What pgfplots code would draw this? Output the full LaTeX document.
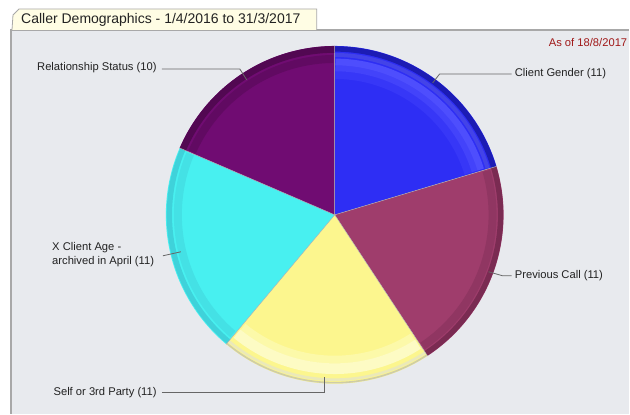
\documentclass[border=0pt]{standalone}
\usepackage{pgfplots}
\pgfplotsset{compat=1.18}
\usepackage{pgfplotstable}
\usepackage{fontspec}
\setmainfont{Liberation Sans}

\definecolor{panelbg}{HTML}{E8EAEE}
\definecolor{panelborder}{HTML}{A8A8A8}
\definecolor{tabbg}{HTML}{FFFDE4}
\definecolor{txt}{HTML}{222222}
\definecolor{asof}{HTML}{A01818}
\definecolor{leader}{HTML}{666666}
\definecolor{cBlue}{HTML}{2E2EF4}
\definecolor{rBlue}{HTML}{1C1CB4}
\definecolor{hBlue}{HTML}{5454FF}
\definecolor{cMaroon}{HTML}{9F3D6C}
\definecolor{rMaroon}{HTML}{7A2B52}
\definecolor{cYellow}{HTML}{FCF68E}
\definecolor{hYellow}{HTML}{FDFBC4}
\definecolor{rYellow}{HTML}{CFCDA6}
\definecolor{cCyan}{HTML}{48F0F0}
\definecolor{rCyan}{HTML}{3FD2DA}
\definecolor{cPurple}{HTML}{700C72}
\definecolor{rPurple}{HTML}{520852}

% slice values: Client Gender, Previous Call, Self or 3rd Party, X Client Age, Relationship Status
\pgfplotstableread{
slice value
1 11
2 11
3 11
4 11
5 10
}\piedata
\pgfplotstablegetelem{0}{value}\of\piedata \let\vA\pgfplotsretval
\pgfplotstablegetelem{1}{value}\of\piedata \let\vB\pgfplotsretval
\pgfplotstablegetelem{2}{value}\of\piedata \let\vC\pgfplotsretval
\pgfplotstablegetelem{3}{value}\of\piedata \let\vD\pgfplotsretval
\pgfplotstablegetelem{4}{value}\of\piedata \let\vE\pgfplotsretval
\pgfmathsetmacro\vT{\vA+\vB+\vC+\vD+\vE}
\pgfmathsetmacro\aA{90}
\pgfmathsetmacro\aB{\aA-360*\vA/\vT}
\pgfmathsetmacro\aC{\aB-360*\vB/\vT}
\pgfmathsetmacro\aD{\aC-360*\vC/\vT}
\pgfmathsetmacro\aE{\aD-360*\vD/\vT}
\pgfmathsetmacro\aF{\aE-360*\vE/\vT}

\def\cx{335}\def\cy{215}\def\R{169}

\newcommand{\slice}[3]{% color, from, to
  \addplot[fill=#1, draw=none, domain=#2:#3, samples=60, variable=\t]
    ({\cx+\R*cos(t)},{\cy-\R*sin(t)}) -- (axis cs:\cx,\cy) -- cycle;
}
\newcommand{\band}[5]{% color, from, to, radius, width(pt)
  \addplot[draw=#1, line width=#5, domain=#2:#3, samples=60, variable=\t]
    ({\cx+#4*cos(t)},{\cy-#4*sin(t)});
}
\newcommand{\edge}[1]{% radial separator
  \addplot[draw=black!30, line width=0.35pt, domain=#1:#1+0.01, samples=2, variable=\t]
    ({\cx+\R*cos(t)},{\cy-\R*sin(t)}) -- (axis cs:\cx,\cy);
}

\begin{document}
\begin{tikzpicture}
\begin{axis}[
  scale only axis, width=472.5pt, height=310.5pt,
  xmin=0, xmax=630, ymin=0, ymax=414, y dir=reverse,
  hide axis, clip=false]
  % background and panel
  \fill[white] (axis cs:0,0) rectangle (axis cs:630,414);
  \fill[panelbg] (axis cs:11,30) rectangle (axis cs:630,414);
  \draw[panelborder, line width=0.8pt] (axis cs:11,414) -- (axis cs:11,30) -- (axis cs:630,30);
  % title tab
  \draw[panelborder, fill=tabbg, line width=0.6pt] (axis cs:12,30) -- (axis cs:13,15) -- (axis cs:19,9) -- (axis cs:317,9) -- (axis cs:317,30);
  \node[anchor=west, inner sep=0, text=txt, font=\fontsize{10.5}{12}\selectfont] at (axis cs:21,20) {Caller Demographics - 1/4/2016 to 31/3/2017};
  \node[anchor=east, inner sep=0, text=asof, font=\fontsize{8.4}{10}\selectfont] at (axis cs:628,43) {As of 18/8/2017};

  % slices
  \slice{cBlue}{\aB}{\aA}
  \slice{cMaroon}{\aC}{\aB}
  \slice{cYellow}{\aD}{\aC}
  \slice{cCyan}{\aE}{\aD}
  \slice{cPurple}{\aF}{\aE}
  % glossy rim (soft graded bands)
  \band{hBlue!25!cBlue}{\aB+0.6}{\aA-0.3}{140}{6pt}
  \band{hBlue!55!cBlue}{\aB+0.6}{\aA-0.3}{147}{5pt}
  \band{hBlue!85!cBlue}{\aB+0.6}{\aA-0.3}{153}{5pt}
  \band{hBlue!70!rBlue}{\aB+0.3}{\aA}{160}{3pt}
  \band{rBlue}{\aB}{\aA}{166}{4pt}
  \band{rMaroon!40!cMaroon}{\aC+0.5}{\aB-0.5}{158}{6pt}
  \band{rMaroon}{\aC}{\aB}{166}{4pt}
  \band{hYellow!50!cYellow}{\aD+0.8}{\aC-0.8}{145}{6pt}
  \band{hYellow}{\aD+0.6}{\aC-0.6}{154}{8pt}
  \band{hYellow!60!rYellow}{\aD}{\aC}{165}{2pt}
  \band{rYellow}{\aD}{\aC}{168}{1.2pt}
  \band{rCyan!50!cCyan}{\aE+0.5}{\aD-0.5}{157}{6pt}
  \band{rCyan}{\aE}{\aD}{165.5}{4pt}
  \band{rPurple!50!cPurple}{\aF+0.5}{\aE-0.5}{156}{6pt}
  \band{rPurple}{\aF}{\aE}{165.5}{5pt}
  % separators
  \edge{\aA}\edge{\aB}\edge{\aC}\edge{\aD}\edge{\aE}

  % leader lines
  \draw[leader, line width=0.6pt] (axis cs:162,69) -- (axis cs:240,69) -- (axis cs:247,80);
  \draw[leader, line width=0.6pt] (axis cs:433,83) -- (axis cs:440,74) -- (axis cs:512,74);
  \draw[leader, line width=0.6pt] (axis cs:489,272) -- (axis cs:503,276) -- (axis cs:512,276);
  \draw[leader, line width=0.6pt] (axis cs:163,256) -- (axis cs:181,252);
  \draw[leader, line width=0.6pt] (axis cs:162,393) -- (axis cs:325,393) -- (axis cs:325,377);

  % labels
  \tikzset{lbl/.style={inner sep=0, text=txt, font=\fontsize{8.4}{10.5}\selectfont}}
  \node[lbl, anchor=east] at (axis cs:157,68) {Relationship Status (10)};
  \node[lbl, anchor=west] at (axis cs:515,74) {Client Gender (11)};
  \node[lbl, anchor=west] at (axis cs:515,276) {Previous Call (11)};
  \node[lbl, anchor=west, align=left] at (axis cs:52,255) {X Client Age -\\archived in April (11)};
  \node[lbl, anchor=east] at (axis cs:157,393) {Self or 3rd Party (11)};
\end{axis}
\end{tikzpicture}
\end{document}
